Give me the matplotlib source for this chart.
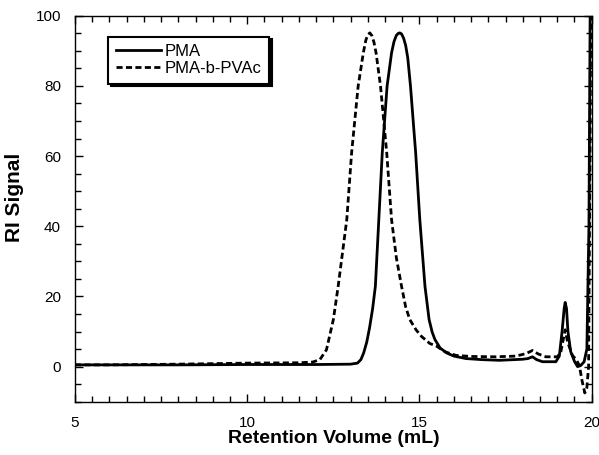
"""GPC traces of PMA and PMA-b-PVAc."""
import matplotlib
matplotlib.use("Agg")
import matplotlib.pyplot as plt
from matplotlib.ticker import MultipleLocator

plt.rcParams["font.family"] = ["Liberation Sans", "DejaVu Sans"]

# PMA trace (solid)
pma_x = [5.0, 6.0, 8.0, 10.0, 12.0, 13.0, 13.2, 13.3, 13.38, 13.47, 13.55, 13.64,
         13.72, 13.82, 13.92, 14.06, 14.19, 14.26, 14.33, 14.39, 14.43, 14.48,
         14.54, 14.6, 14.66, 14.74, 14.89, 15.01, 15.16, 15.28, 15.37, 15.45,
         15.6, 15.79, 16.0, 16.35, 16.8, 17.32, 17.99, 18.15, 18.28, 18.4,
         18.57, 18.96, 19.06, 19.14, 19.2, 19.23, 19.27, 19.31, 19.39, 19.5,
         19.59, 19.68, 19.78, 19.86, 19.92, 19.96, 20.0]
pma_y = [0.5, 0.5, 0.5, 0.6, 0.6, 0.7, 1.0, 2.0, 3.9, 7.0, 11.0, 16.5,
         22.9, 41.9, 60.9, 79.9, 89.4, 92.6, 94.4, 95.0, 95.1, 94.8,
         93.6, 91.5, 88.0, 79.9, 60.9, 41.9, 22.9, 13.4, 9.8, 7.7,
         5.3, 3.9, 3.0, 2.3, 2.0, 1.8, 2.1, 2.3, 2.8, 2.0,
         1.4, 1.4, 3.0, 10.0, 16.5, 18.3, 16.5, 10.0, 4.3, 1.5,
         0.0, 0.3, 1.4, 5.0, 40.0, 110.0, 150.0]

# PMA-b-PVAc trace (dashed)
blk_x = [5.0, 6.0, 8.0, 10.0, 11.5, 11.9, 12.11, 12.3, 12.5, 12.64, 12.89, 13.03,
         13.22, 13.37, 13.44, 13.5, 13.56, 13.62, 13.68, 13.74, 13.87, 14.05,
         14.19, 14.33, 14.48, 14.6, 14.72, 14.9, 15.06, 15.3, 15.5, 15.75,
         16.06, 16.5, 17.2, 17.8, 18.09, 18.28, 18.45, 18.67, 19.0, 19.1,
         19.18, 19.23, 19.3, 19.44, 19.55, 19.64, 19.72, 19.8, 19.86, 19.91,
         19.95, 20.0]
blk_y = [0.5, 0.5, 0.7, 1.0, 1.1, 1.3, 2.0, 4.8, 13.4, 22.9, 41.9, 60.9,
         79.9, 89.4, 92.9, 94.6, 95.1, 94.3, 92.4, 89.4, 79.9, 60.9,
         41.9, 31.0, 22.9, 17.0, 13.4, 10.5, 8.6, 6.6, 5.8, 4.2,
         3.2, 2.9, 2.8, 3.0, 3.7, 4.6, 3.6, 2.8, 2.8, 4.0,
         8.0, 10.5, 7.0, 3.2, 2.0, 0.4, -4.0, -7.5, -6.0, 0.0,
         60.0, 150.0]

fig = plt.figure(figsize=(5.99, 4.55), dpi=100)
ax = fig.add_axes([0.1252, 0.1171, 0.8626, 0.8484])

ax.plot(pma_x, pma_y, color="black", lw=2.0, label="PMA")
ax.plot(blk_x, blk_y, color="black", lw=2.0, dashes=(2.2, 1.2), label="PMA-b-PVAc")

ax.set_xlim(5, 20)
ax.set_ylim(-10, 100)
ax.xaxis.set_major_locator(MultipleLocator(5))
ax.xaxis.set_minor_locator(MultipleLocator(0.5))
ax.yaxis.set_major_locator(MultipleLocator(20))
ax.yaxis.set_minor_locator(MultipleLocator(5))
ax.tick_params(which="both", direction="in", top=True, right=True,
               labelsize=11, width=1.0)
ax.tick_params(which="major", length=6, pad=10)
ax.tick_params(which="minor", length=4)
for spine in ax.spines.values():
    spine.set_linewidth(1.0)

ax.set_xlabel("Retention Volume (mL)", fontsize=14, fontweight="bold", labelpad=0)
ax.set_ylabel("RI Signal", fontsize=15, fontweight="bold")
ax.yaxis.set_label_coords(-0.098, 0.53)

leg = ax.legend(loc="upper left", bbox_to_anchor=(0.064, 0.946), borderaxespad=0,
                fontsize=12, handlelength=2.7, handletextpad=0.25, labelspacing=0.12,
                borderpad=0.45, fancybox=False, framealpha=1,
                shadow={"color": "black", "alpha": 1})
leg.get_frame().set_edgecolor("black")
leg.get_frame().set_linewidth(1.5)

fig.savefig("out.png", dpi=100)
